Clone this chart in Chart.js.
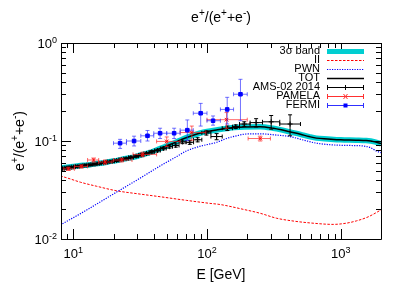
<!DOCTYPE html>
<html>
<head>
<meta charset="utf-8">
<script src="https://cdn.jsdelivr.net/npm/chart.js@4.4.0/dist/chart.umd.min.js"></script>
<style>
body{margin:0;background:#fff}
</style>
</head>
<body>
<canvas id="c" width="407" height="285"></canvas>
<script>
var FONT='"Liberation Sans", Arial, Helvetica, sans-serif';

// model curves (E in GeV, positron fraction)
var totE=[8,9,10,11,13,15,17,19,21,23,26,29,32,36,41,46,53,60,66,75,88,100,120,140,160,190,250,313,360,416,500,580,658,800,1000,1300,1550,1800,2000];
var totV=[0.053,0.054,0.055,0.056,0.057,0.059,0.060,0.062,0.063,0.065,0.067,0.069,0.072,0.075,0.080,0.085,0.092,0.099,0.105,0.112,0.120,0.125,0.130,0.134,0.137,0.139,0.140,0.135,0.130,0.124,0.117,0.111,0.107,0.105,0.103,0.102,0.101,0.098,0.094];

var iiE=[8,9,11.3,15,21.2,30,44.6,70,105,125,186,250,331,450,587,877,1100,1309,1600,2000];
var iiV=[0.044,0.042,0.038,0.0345,0.031,0.029,0.027,0.0248,0.0231,0.0225,0.0201,0.0183,0.0163,0.0152,0.0146,0.0141,0.0145,0.0153,0.0168,0.0198];

var pwnE=[8,12,16,21,30,45,60,70,88,118,140,166,200,260,330,416,530,658,900,1200,1450,1650,1850,2000];
var pwnV=[0.0139,0.019,0.024,0.030,0.040,0.056,0.070,0.079,0.088,0.097,0.106,0.113,0.118,0.118,0.115,0.111,0.102,0.095,0.091,0.090,0.089,0.086,0.079,0.076];

// AMS-02 2014
var amsE=[8.03,8.57,9.15,9.74,10.37,11.06,11.82,12.65,13.56,14.54,15.63,16.82,18.12,19.55,21.13,22.89,24.85,27.0,29.5,32.2,35.3,38.7,42.7,47.2,52.3,58.4,65.6,74.4,85.1,99,118,142,164,190,233,302,418];
var amsLo=[7.76,8.30,8.86,9.44,10.05,10.71,11.43,12.22,13.09,14.03,15.07,16.2,17.45,18.81,20.3,21.97,23.82,25.88,28.2,30.8,33.7,36.9,40.6,44.8,49.6,55.2,61.8,69.7,79.4,91.5,107,130,155,175,210,260,350];
var amsHi=[8.30,8.86,9.44,10.05,10.71,11.43,12.22,13.09,14.03,15.07,16.2,17.45,18.81,20.3,21.97,23.82,25.88,28.2,30.8,33.7,36.9,40.6,44.8,49.6,55.2,61.8,69.7,79.4,91.5,107,130,155,175,210,260,350,500];
var amsV=[0.0520,0.0527,0.0535,0.0540,0.0547,0.0552,0.0560,0.0567,0.0573,0.0580,0.0590,0.0600,0.0610,0.0620,0.0632,0.0648,0.0660,0.0680,0.0700,0.0720,0.0745,0.0775,0.0800,0.0840,0.0875,0.0900,0.0980,0.0970,0.1030,0.1210,0.1110,0.1350,0.1400,0.1490,0.1540,0.1570,0.1490];
var amsErr=[0.0008,0.0008,0.0008,0.0009,0.0009,0.0009,0.001,0.001,0.001,0.0011,0.0011,0.0012,0.0012,0.0013,0.0014,0.0015,0.0016,0.0017,0.0018,0.002,0.0021,0.0023,0.0025,0.0028,0.003,0.0034,0.004,0.0045,0.005,0.006,0.008,0.007,0.006,0.008,0.015,0.025,0.036];

// PAMELA
var pamE=[9.2,11.5,14.2,17.3,23,33,50,77,140,250];
var pamLo=[8.5,10.2,12.8,15.5,20,28,42,63,100,203];
var pamHi=[10.2,12.8,15.5,19.5,27.5,42,63,98,200,298];
var pamV=[0.052,0.055,0.064,0.061,0.064,0.073,0.099,0.122,0.165,0.106];
var pamErr=[0.002,0.002,0.003,0.003,0.003,0.004,0.011,0.02,0.03,0.006];

// FERMI
var ferE=[22.4,28.5,35.9,44.6,56.8,71.3,89.7,111,141.6,178];
var ferLo=[20,25,32,40,50,63,79,100,126,158];
var ferHi=[25,32,40,50,63,79,100,126,158,200];
var ferV=[0.095,0.100,0.113,0.120,0.120,0.129,0.192,0.161,0.21,0.30];
var ferVlo=[0.084,0.089,0.100,0.106,0.106,0.101,0.142,0.145,0.149,0.161];
var ferVhi=[0.104,0.112,0.128,0.135,0.135,0.164,0.242,0.180,0.279,0.426];

var xTicks=[10,100,1000];
var xTickExp=['1','2','3'];
var yTicks=[1,0.1,0.01];
var yTickExp=['0','-1','-2'];

function pts(xs,ys){
	var out=[];
	for(var i=0;i<xs.length;i++) out.push({x:xs[i],y:ys[i]});
	return out;
}
function minus(v,e){ return v.map(function(a,i){return a-e[i];}); }
function plus(v,e){ return v.map(function(a,i){return a+e[i];}); }

function richWidth(ctx,parts,size){
	var w=0;
	parts.forEach(function(p){
		ctx.font=(p[1]?Math.round(size*0.72):size)+'px '+FONT;
		w+=ctx.measureText(p[0]).width;
	});
	return w;
}
function drawRich(ctx,parts,x,y,size,align){
	var w=richWidth(ctx,parts,size);
	var cx=align==='center'?x-w/2:(align==='right'?x-w:x);
	ctx.textAlign='left';
	ctx.textBaseline='alphabetic';
	parts.forEach(function(p){
		var s=p[1]?Math.round(size*0.72):size;
		ctx.font=s+'px '+FONT;
		ctx.fillText(p[0],cx,p[1]?y-size*0.4:y);
		cx+=ctx.measureText(p[0]).width;
	});
}

var errorBars={
	id:'errorBars',
	beforeDatasetDraw:function(chart,args){
		var ds=chart.data.datasets[args.index];
		if(!ds.err) return;
		var xs=chart.scales.x,ys=chart.scales.y,ctx=chart.ctx,a=chart.chartArea;
		ctx.save();
		ctx.beginPath();
		ctx.rect(a.left,a.top,a.right-a.left,a.bottom-a.top);
		ctx.clip();
		ctx.strokeStyle=ds.err.color;
		ctx.lineWidth=1;
		for(var i=0;i<ds.data.length;i++){
			var px=xs.getPixelForValue(ds.data[i].x),py=ys.getPixelForValue(ds.data[i].y);
			var x1=xs.getPixelForValue(ds.err.xlo[i]),x2=xs.getPixelForValue(ds.err.xhi[i]);
			var y1=ys.getPixelForValue(ds.err.ylo[i]),y2=ys.getPixelForValue(ds.err.yhi[i]);
			ctx.beginPath();
			ctx.moveTo(x1,py);ctx.lineTo(x2,py);
			ctx.moveTo(x1,py-2);ctx.lineTo(x1,py+2);
			ctx.moveTo(x2,py-2);ctx.lineTo(x2,py+2);
			ctx.moveTo(px,y1);ctx.lineTo(px,y2);
			ctx.moveTo(px-2,y1);ctx.lineTo(px+2,y1);
			ctx.moveTo(px-2,y2);ctx.lineTo(px+2,y2);
			ctx.stroke();
		}
		ctx.restore();
	}
};

var frame={
	id:'frame',
	afterDatasetsDraw:function(chart){
		var ctx=chart.ctx,a=chart.chartArea,xs=chart.scales.x,ys=chart.scales.y;
		ctx.save();
		ctx.strokeStyle='#000';
		ctx.lineWidth=1;
		ctx.beginPath();
		ctx.rect(Math.round(a.left)+0.5,Math.round(a.top)+0.5,Math.round(a.right-a.left),Math.round(a.bottom-a.top));
		ctx.stroke();
		ctx.beginPath();
		// x ticks, mirrored top and bottom
		for(var d=1;d<=1000;d*=10){
			for(var m=1;m<10;m++){
				var v=d*m;
				if(v<xs.min||v>xs.max) continue;
				var px=Math.round(xs.getPixelForValue(v))+0.5;
				var len=m===1?10:5;
				ctx.moveTo(px,a.bottom);ctx.lineTo(px,a.bottom-len);
				ctx.moveTo(px,a.top);ctx.lineTo(px,a.top+len);
			}
		}
		for(var e=0.01;e<1.5;e*=10){
			for(var k=1;k<10;k++){
				var w=e*k;
				if(w<ys.min*0.999||w>ys.max*1.001) continue;
				var py=Math.round(ys.getPixelForValue(w))+0.5;
				var l2=k===1?10:5;
				ctx.moveTo(a.left,py);ctx.lineTo(a.left+l2,py);
				ctx.moveTo(a.right,py);ctx.lineTo(a.right-l2,py);
			}
		}
		ctx.stroke();
		ctx.fillStyle='#000';
		xTicks.forEach(function(t,i){
			drawRich(ctx,[['10',0],[xTickExp[i],1]],xs.getPixelForValue(t),258,13,'center');
		});
		yTicks.forEach(function(t,i){
			drawRich(ctx,[['10',0],[yTickExp[i],1]],a.left-4,ys.getPixelForValue(t)+5,13,'right');
		});
		// titles
		drawRich(ctx,[['e',0],['+',1],['/(e',0],['+',1],['+e',0],['-',1],[')',0]],(a.left+a.right)/2,22,14,'center');
		drawRich(ctx,[['E [GeV]',0]],(a.left+a.right)/2,279,14,'center');
		ctx.translate(24,(a.top+a.bottom)/2);
		ctx.rotate(-Math.PI/2);
		drawRich(ctx,[['e',0],['+',1],['/(e',0],['+',1],['+e',0],['-',1],[')',0]],0,0,14,'center');
		ctx.restore();
	},
	afterDraw:function(chart){
		var ctx=chart.ctx;
		var rows=[
			{t:'3\u03c3 band',c:'rgb(0,206,209)',w:5},
			{t:'II',c:'#ff0000',w:1,dash:[2.5,1.5]},
			{t:'PWN',c:'#0000ff',w:1.2,dash:[1.2,1.3]},
			{t:'TOT',c:'#000',w:1.5},
			{t:'AMS-02 2014',c:'#000',w:1,bar:true,mk:'plus'},
			{t:'PAMELA',c:'#ff3030',w:1,bar:true,mk:'x'},
			{t:'FERMI',c:'#3030ff',w:1,bar:true,mk:'sq'}
		];
		ctx.save();
		rows.forEach(function(r,i){
			var y=51+9*i;
			ctx.fillStyle='#000';
			ctx.font='11px '+FONT;
			ctx.textAlign='right';
			ctx.textBaseline='middle';
			ctx.fillText(r.t,320,y);
			ctx.strokeStyle=r.c;
			ctx.lineWidth=r.w;
			ctx.setLineDash(r.dash||[]);
			ctx.beginPath();
			ctx.moveTo(327,y+0.5);ctx.lineTo(364,y+0.5);
			ctx.stroke();
			ctx.setLineDash([]);
			if(r.bar){
				ctx.beginPath();
				ctx.moveTo(327.5,y-2);ctx.lineTo(327.5,y+3);
				ctx.moveTo(363.5,y-2);ctx.lineTo(363.5,y+3);
				if(r.mk==='plus'){
					ctx.moveTo(345.5,y-2);ctx.lineTo(345.5,y+3);
				}else if(r.mk==='x'){
					ctx.moveTo(343.5,y-2);ctx.lineTo(347.5,y+3);
					ctx.moveTo(347.5,y-2);ctx.lineTo(343.5,y+3);
				}
				ctx.stroke();
				if(r.mk==='sq'){
					ctx.fillStyle='#0000ff';
					ctx.fillRect(343.5,y-1.5,4,4);
				}
			}
		});
		ctx.restore();
	}
};

new Chart(document.getElementById('c'),{
	type:'scatter',
	data:{
		datasets:[
			{label:'3\u03c3 band',order:7,data:pts(totE,totV),showLine:true,borderColor:'rgb(0,206,209)',borderWidth:5.5,pointRadius:0,cubicInterpolationMode:'monotone',clip:0},
			{label:'II',order:6,data:pts(iiE,iiV),showLine:true,borderColor:'#ff0000',borderWidth:1,borderDash:[2.5,1.5],pointRadius:0,cubicInterpolationMode:'monotone',clip:0},
			{label:'PWN',order:5,data:pts(pwnE,pwnV),showLine:true,borderColor:'#0000ff',borderWidth:1.2,borderDash:[1.2,1.3],pointRadius:0,cubicInterpolationMode:'monotone',clip:0},
			{label:'TOT',order:4,data:pts(totE,totV),showLine:true,borderColor:'#000',borderWidth:1.5,pointRadius:0,cubicInterpolationMode:'monotone',clip:0},
			{label:'AMS-02 2014',order:3,data:pts(amsE,amsV),pointStyle:'cross',pointRadius:2.5,borderColor:'#000',backgroundColor:'#000',borderWidth:1,clip:0,
				err:{color:'#000',xlo:amsLo,xhi:amsHi,ylo:minus(amsV,amsErr),yhi:plus(amsV,amsErr)}},
			{label:'PAMELA',order:2,data:pts(pamE,pamV),pointStyle:'crossRot',pointRadius:2.5,borderColor:'#ff0000',backgroundColor:'#ff0000',borderWidth:1,clip:0,
				err:{color:'rgba(255,40,40,0.7)',xlo:pamLo,xhi:pamHi,ylo:minus(pamV,pamErr),yhi:plus(pamV,pamErr)}},
			{label:'FERMI',order:1,data:pts(ferE,ferV),pointStyle:'rect',pointRadius:2.5,borderColor:'#0000ff',backgroundColor:'#0000ff',borderWidth:1,clip:0,
				err:{color:'rgba(40,40,255,0.65)',xlo:ferLo,xhi:ferHi,ylo:ferVlo,yhi:ferVhi}}
		]
	},
	options:{
		responsive:false,
		animation:false,
		devicePixelRatio:1,
		layout:{padding:{left:0,right:26,top:43,bottom:0}},
		plugins:{legend:{display:false},title:{display:false},tooltip:{enabled:false}},
		scales:{
			x:{type:'logarithmic',min:8.1,max:2000,grid:{display:false},border:{display:false},ticks:{display:false},
				afterFit:function(s){s.height=46;}},
			y:{type:'logarithmic',min:0.01,max:1,grid:{display:false},border:{display:false},ticks:{display:false},
				afterFit:function(s){s.width=61;}}
		}
	},
	plugins:[errorBars,frame]
});
</script>
</body>
</html>
